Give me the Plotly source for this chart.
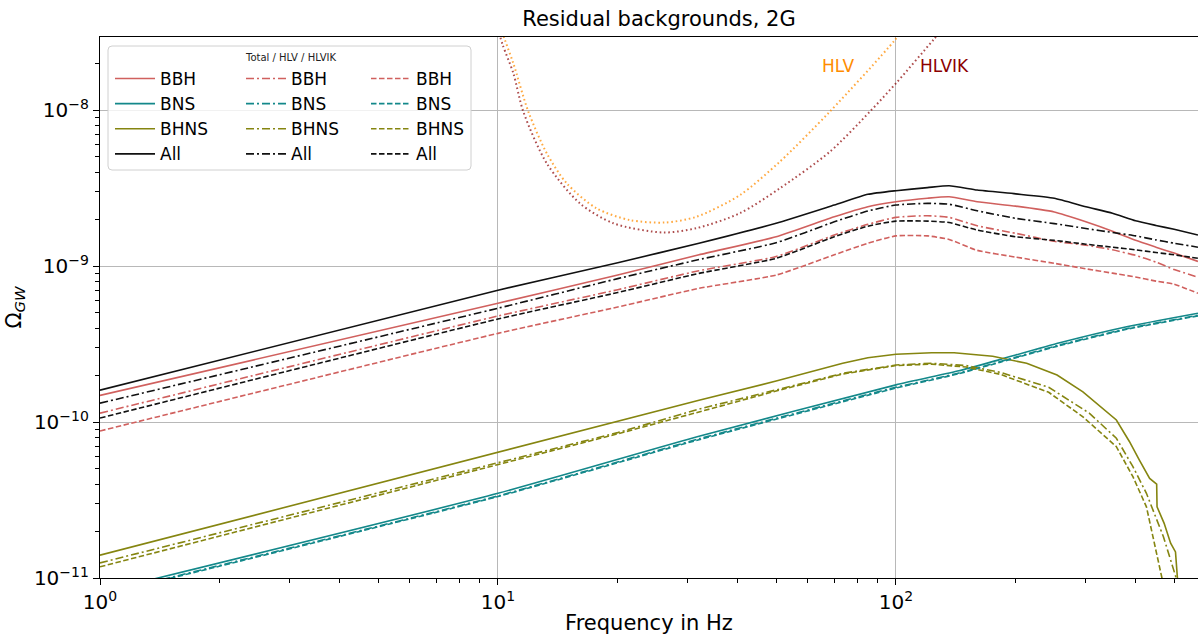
import plotly.graph_objects as go

# ---------------- data ----------------
freq = [1, 10, 20, 32, 50, 70, 85, 100, 120, 136, 160, 200, 250, 300, 350, 400, 450, 500, 574]

all_total = [1.60e-10, 7.0e-10, 1.05e-9, 1.40e-9, 1.88e-9, 2.46e-9, 2.88e-9, 3.04e-9, 3.18e-9, 3.27e-9,
             3.07e-9, 2.90e-9, 2.72e-9, 2.40e-9, 2.18e-9, 1.95e-9, 1.82e-9, 1.72e-9, 1.58e-9]
bbh_total = [1.48e-10, 5.77e-10, 8.75e-10, 1.18e-9, 1.54e-9, 2.07e-9, 2.40e-9, 2.58e-9, 2.72e-9, 2.78e-9,
             2.58e-9, 2.42e-9, 2.22e-9, 1.92e-9, 1.67e-9, 1.46e-9, 1.32e-9, 1.21e-9, 1.07e-9]
all_hlv = [1.32e-10, 5.36e-10, 8.3e-10, 1.10e-9, 1.41e-9, 1.92e-9, 2.25e-9, 2.46e-9, 2.52e-9, 2.49e-9,
           2.26e-9, 2.02e-9, 1.87e-9, 1.74e-9, 1.64e-9, 1.56e-9, 1.47e-9, 1.40e-9, 1.32e-9]
bbh_hlv = [1.14e-10, 4.78e-10, 7.05e-10, 9.33e-10, 1.15e-9, 1.58e-9, 1.85e-9, 2.05e-9, 2.10e-9, 2.05e-9,
           1.81e-9, 1.62e-9, 1.44e-9, 1.36e-9, 1.27e-9, 1.17e-9, 1.06e-9, 0.95e-9, 8.47e-10]
all_hlvik = [1.06e-10, 4.57e-10, 6.76e-10, 8.97e-10, 1.12e-9, 1.54e-9, 1.80e-9, 1.94e-9, 1.94e-9, 1.90e-9,
             1.70e-9, 1.54e-9, 1.46e-9, 1.38e-9, 1.32e-9, 1.27e-9, 1.22e-9, 1.18e-9, 1.12e-9]
bbh_hlvik = [8.76e-11, 3.70e-10, 5.46e-10, 7.19e-10, 8.75e-10, 1.18e-9, 1.40e-9, 1.56e-9, 1.56e-9, 1.48e-9,
             1.26e-9, 1.14e-9, 1.04e-9, 0.96e-9, 0.90e-9, 0.85e-9, 0.80e-9, 0.765e-9, 6.68e-10]

bhns_f = [1, 10, 20, 32, 50, 73.5, 85, 100, 123, 140, 175, 213, 254, 295, 358, 386, 409, 434, 452, 453,
          472, 490, 504, 510, 520]
bhns_total = [1.40e-11, 6.40e-11, 1.01e-10, 1.38e-10, 1.83e-10, 2.38e-10, 2.58e-10, 2.72e-10, 2.78e-10,
              2.78e-10, 2.64e-10, 2.38e-10, 2.0e-10, 1.56e-10, 1.03e-10, 7.5e-11, 5.7e-11, 4.35e-11, 4.0e-11,
              2.86e-11, 2.24e-11, 1.67e-11, 1.47e-11, 1.0e-11, 5e-12]
bhns_hlv_f = [1, 10, 20, 32, 50, 73.5, 100, 123, 150, 183, 242, 306, 358, 394, 426, 470, 506, 515]
bhns_hlv = [1.25e-11, 5.48e-11, 8.55e-11, 1.21e-10, 1.60e-10, 2.05e-10, 2.32e-10, 2.38e-10, 2.30e-10,
            2.08e-10, 1.67e-10, 1.14e-10, 7.87e-11, 5.17e-11, 3.49e-11, 1.84e-11, 1.0e-11, 7e-12]
bhns_hlvik_f = [1, 10, 20, 32, 50, 73.5, 100, 123, 150, 183, 242, 295, 358, 394, 426, 466, 475]
bhns_hlvik = [1.18e-11, 5.37e-11, 8.4e-11, 1.16e-10, 1.58e-10, 2.03e-10, 2.30e-10, 2.35e-10, 2.25e-10,
              2.02e-10, 1.55e-10, 1.08e-10, 6.95e-11, 4.46e-11, 2.86e-11, 1.0e-11, 7e-12]

bns_f = [1, 10, 32, 100, 144, 183, 258, 380, 574]
bns_total = [8.1e-12, 3.49e-11, 8.1e-11, 1.73e-10, 2.13e-10, 2.52e-10, 3.22e-10, 4.08e-10, 4.98e-10]
bns_hlv = [7.8e-12, 3.36e-11, 7.8e-11, 1.67e-10, 2.06e-10, 2.44e-10, 3.12e-10, 3.96e-10, 4.83e-10]
bns_hlvik = [7.7e-12, 3.33e-11, 7.7e-11, 1.65e-10, 2.04e-10, 2.42e-10, 3.09e-10, 3.93e-10, 4.79e-10]

hlv_f = [10, 10.41, 10.93, 11.92, 13.26, 14.88, 17.70, 21.46, 26.28, 31.56, 40.55, 51.1, 68.2, 99.4, 110]
hlv_sens = [3.8e-8, 2.81e-8, 1.99e-8, 9.76e-9, 5.28e-9, 3.39e-9, 2.34e-9, 1.97e-9, 1.90e-9, 2.07e-9,
            2.85e-9, 4.67e-9, 9.76e-9, 2.81e-8, 4.0e-8]
hlvik_f = [10, 10.28, 10.93, 11.58, 13.26, 16.07, 19.49, 26.02, 31.56, 40.55, 51.1, 68.2, 86.0, 100.4,
           124.1, 135]
hlvik_sens = [3.3e-8, 2.61e-8, 1.72e-8, 9.76e-9, 4.55e-9, 2.52e-9, 1.88e-9, 1.64e-9, 1.75e-9, 2.18e-9,
              3.15e-9, 5.4e-9, 9.76e-9, 1.50e-8, 2.81e-8, 3.6e-8]

names = ["BBH", "BNS", "BHNS", "All"]
colors = {"BBH": "#d0605e", "BNS": "#13888a", "BHNS": "#858510", "All": "#111111"}

# ---------------- figure ----------------
FONT = "DejaVu Sans"
W, H = 1198, 635
L, T, R, B = 100, 37, 0, 57
PW, PH = W - L - R, H - T - B


def px2paper_x(px):
    return (px - L) / PW


def px2paper_y(py):
    return (H - B - py) / PH


DASHDOT = "8px,3px,2px,3px"
DASH = "5.5px,2.5px"

fig = go.Figure()

fig.add_trace(go.Scatter(x=hlv_f, y=hlv_sens, mode="lines", showlegend=False, hoverinfo="skip",
                         line=dict(color="rgba(255,140,0,0.75)", width=2, dash="1.6px,2.8px", shape="spline",
                                   smoothing=0.8)))
fig.add_trace(go.Scatter(x=hlvik_f, y=hlvik_sens, mode="lines", showlegend=False, hoverinfo="skip",
                         line=dict(color="rgba(139,0,0,0.7)", width=2, dash="1.6px,2.8px", shape="spline",
                                   smoothing=0.8)))

series = {
    "legend": ("solid", {"BBH": (freq, bbh_total), "BNS": (bns_f, bns_total),
                         "BHNS": (bhns_f, bhns_total), "All": (freq, all_total)}),
    "legend2": (DASHDOT, {"BBH": (freq, bbh_hlv), "BNS": (bns_f, bns_hlv),
                          "BHNS": (bhns_hlv_f, bhns_hlv), "All": (freq, all_hlv)}),
    "legend3": (DASH, {"BBH": (freq, bbh_hlvik), "BNS": (bns_f, bns_hlvik),
                       "BHNS": (bhns_hlvik_f, bhns_hlvik), "All": (freq, all_hlvik)}),
}

for leg, (dash, d) in series.items():
    for n in names:
        xs, ys = d[n]
        shape = "linear" if n == "BHNS" else "spline"
        fig.add_trace(go.Scatter(x=xs, y=ys, mode="lines", name=n, legend=leg,
                                 line=dict(color=colors[n], width=1.6, dash=dash, shape=shape,
                                           smoothing=0.5)))

# axes ticks
ymaj = [1e-11, 1e-10, 1e-9, 1e-8]
ytxt = ["10<sup>−11</sup>", "10<sup>−10</sup>", "10<sup>−9</sup>", "10<sup>−8</sup>"]
yminor = [m * 10.0 ** e for e in range(-11, -7) for m in range(2, 10)]
xmaj = [1, 10, 100]
xtxt = ["10<sup>0</sup>", "10<sup>1</sup>", "10<sup>2</sup>"]
xminor = [m * 10.0 ** e for e in range(0, 3) for m in range(2, 10)]

fig.update_layout(
    width=W, height=H,
    margin=dict(l=L, r=R, t=T, b=B, pad=0, autoexpand=False),
    paper_bgcolor="white", plot_bgcolor="white",
    font=dict(family=FONT, color="black", size=17),
    title=dict(text="Residual backgrounds, 2G", x=659 / W, xanchor="center",
               y=1 - 19 / H, yanchor="middle", font=dict(size=21, family=FONT, color="black")),
    xaxis=dict(type="log", range=[0, 2.759], tickvals=xmaj, ticktext=xtxt, ticks="outside",
               ticklen=6, tickwidth=1, tickcolor="black", showline=True, linecolor="black",
               linewidth=1.2, mirror=True, showgrid=True, gridcolor="#b8b8b8", gridwidth=1,
               tickfont=dict(size=20, family=FONT),
               minor=dict(tickvals=xminor, ticks="outside", ticklen=3.5, tickcolor="black",
                          showgrid=False),
               title=dict(text="Frequency in Hz", font=dict(size=21, family=FONT), standoff=4)),
    yaxis=dict(type="log", range=[-11, -7.532], tickvals=ymaj, ticktext=ytxt, ticks="outside",
               ticklen=6, tickwidth=1, tickcolor="black", showline=True, linecolor="black",
               linewidth=1.2, mirror=False, showgrid=True, gridcolor="#b8b8b8", gridwidth=1,
               tickfont=dict(size=20, family=FONT),
               minor=dict(tickvals=yminor, ticks="outside", ticklen=3.5, tickcolor="black",
                          showgrid=False),
               title=dict(text="Ω<sub><i>GW</i></sub>", font=dict(size=21, family=FONT), standoff=6)),
)

leg_common = dict(bgcolor="rgba(0,0,0,0)", borderwidth=0, xanchor="left", yanchor="top",
                  font=dict(size=17, family=FONT, color="black"), traceorder="normal",
                  itemwidth=40, itemclick=False, itemdoubleclick=False)
fig.update_layout(
    legend=dict(x=px2paper_x(110), y=px2paper_y(61), **leg_common),
    legend2=dict(x=px2paper_x(241), y=px2paper_y(61), **leg_common),
    legend3=dict(x=px2paper_x(366), y=px2paper_y(61), **leg_common),
)

# legend frame (rounded) with semi-transparent white face
x0, x1 = px2paper_x(108), px2paper_x(471)
y0, y1 = px2paper_y(170), px2paper_y(46)
rx, ry = 4 / PW, 4 / PH
path = (f"M{x0 + rx},{y0} L{x1 - rx},{y0} Q{x1},{y0} {x1},{y0 + ry} L{x1},{y1 - ry} "
        f"Q{x1},{y1} {x1 - rx},{y1} L{x0 + rx},{y1} Q{x0},{y1} {x0},{y1 - ry} L{x0},{y0 + ry} "
        f"Q{x0},{y0} {x0 + rx},{y0} Z")
fig.add_shape(type="path", path=path, xref="paper", yref="paper", layer="above",
              fillcolor="rgba(255,255,255,0.8)", line=dict(color="#d0d0d0", width=1))

fig.add_annotation(text="Total / HLV / HLVIK", xref="paper", yref="paper", x=px2paper_x(290),
                   y=px2paper_y(57), showarrow=False, font=dict(size=10, family=FONT, color="#222"),
                   xanchor="center", yanchor="middle")

fig.add_annotation(text="HLV", x=1.854, y=-7.718, xref="x", yref="y", showarrow=False,
                   font=dict(size=17, family=FONT, color="#ff8c00"), xanchor="center", yanchor="middle")
fig.add_annotation(text="HLVIK", x=2.121, y=-7.718, xref="x", yref="y", showarrow=False,
                   font=dict(size=17, family=FONT, color="#8b0000"), xanchor="center", yanchor="middle")

fig.write_html(
    "out.html",
    config={"displayModeBar": False},
    post_script=("document.body.style.margin='0px';"
                 "document.body.style.overflow='hidden';"
                 "document.documentElement.style.overflow='hidden';"),
)
